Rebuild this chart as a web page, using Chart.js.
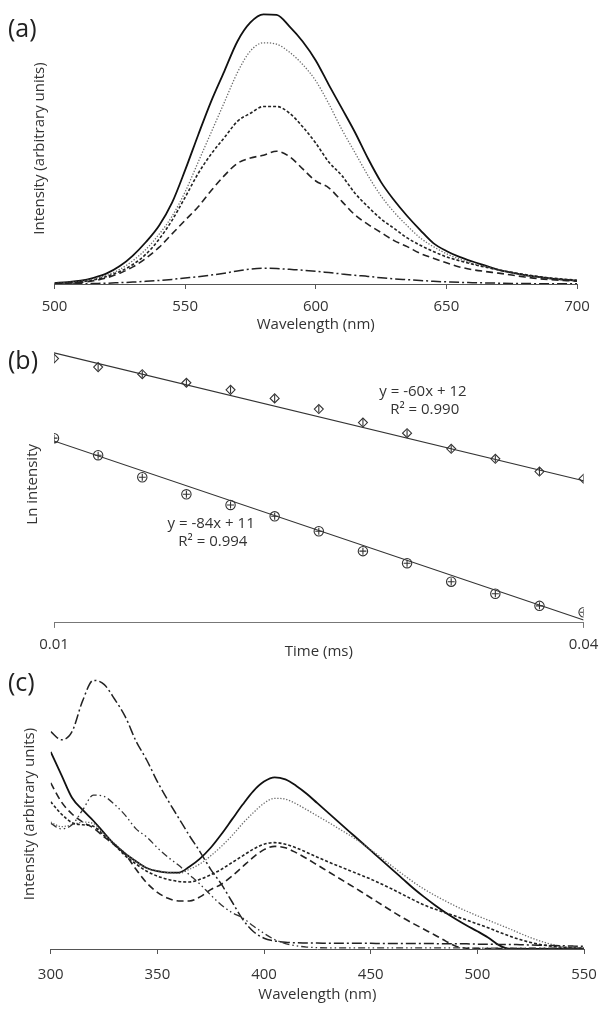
<!DOCTYPE html>
<html lang="en">
<head>
  <meta charset="UTF-8" />
  <title>Emission, decay and excitation spectra</title>
  <script src="https://cdn.jsdelivr.net/npm/chart.js@4.4.1/dist/chart.umd.min.js"></script>
  <style>
    body { margin: 0; background: #fff; }
    .panel { position: absolute; left: 0; }
  </style>
</head>
<body>
<div class="panel" style="top: 0px"><canvas id="a" width="615" height="340"></canvas></div>
<div class="panel" style="top: 340px"><canvas id="b" width="615" height="330"></canvas></div>
<div class="panel" style="top: 670px"><canvas id="c" width="615" height="346"></canvas></div>
<script>
  // (a) emission spectra
  const wavelengthA = [500, 505, 510, 515, 520, 525, 530, 535, 540, 545, 550, 555, 560, 565, 570, 575, 580, 585, 590, 595,
    600, 605, 610, 615, 620, 625, 630, 635, 640, 645, 650, 655, 660, 665, 670, 675, 680, 685, 690, 695, 700];
  const solidA = [0.4, 0.7, 1.2, 2.3, 3.9, 6.6, 10.5, 15.5, 21.5, 30, 42, 55, 67.5, 78.5, 89.5, 96.5, 99.5, 99.3, 95, 89.5,
    82.5, 73.5, 64.8, 56, 46.3, 37.6, 30.9, 25.1, 19.9, 15.1, 12.2, 10, 8.3, 6.8, 5.2, 4.2, 3.3, 2.6, 2, 1.6, 1.2];
  const dottedA = [0.3, 0.6, 1, 1.9, 3.2, 5.4, 8.6, 12.8, 18.3, 25, 34, 45, 56, 67, 78, 86, 89, 88.5, 85.5, 81,
    75, 66.5, 57, 48.5, 40, 32.5, 26.5, 21.5, 17, 13.8, 11.2, 9.2, 7.6, 6.4, 5.2, 4.2, 3.3, 2.5, 1.9, 1.5, 1.1];
  const shortDashA = [0.2, 0.4, 0.8, 1.5, 2.8, 4.6, 7.2, 11, 16.5, 23.5, 32, 40.8, 48, 54, 60, 63, 65.5, 65.5, 63, 58,
    52, 45, 40, 33.5, 28.5, 24, 20.5, 17, 14.3, 12, 10, 8.6, 7.3, 6.2, 5.2, 4.3, 3.5, 2.8, 2.2, 1.8, 1.4];
  const dashedA = [0.2, 0.3, 0.6, 1.2, 2.3, 4, 6.3, 9.5, 13.5, 18.5, 23.5, 28.5, 34.5, 40, 44.5, 46.5, 47.5, 49, 47, 42.5,
    38, 35.5, 30.5, 25.5, 22, 19, 16, 13.8, 11.3, 9.5, 7.8, 6.3, 5.3, 4.6, 4, 3.3, 2.6, 2, 1.6, 1.3, 1];
  const dashDotA = [0, 0, 0.1, 0.2, 0.3, 0.5, 0.7, 1, 1.3, 1.7, 2.2, 2.7, 3.3, 4, 4.8, 5.5, 5.8, 5.7, 5.4, 5.1,
    4.7, 4.2, 3.7, 3.2, 2.8, 2.3, 1.9, 1.6, 1.3, 1, 0.8, 0.6, 0.5, 0.4, 0.3, 0.2, 0.2, 0.1, 0.1, 0.1, 0.1];
  const ticksA = [500, 550, 600, 650, 700];

  // (b) ln intensity decay
  const timeB = [0.01, 0.0125, 0.015, 0.0175, 0.02, 0.0225, 0.025, 0.0275, 0.03, 0.0325, 0.035, 0.0375, 0.04];
  const diamondB = [11.32, 11.2, 11.1, 10.98, 10.88, 10.76, 10.61, 10.42, 10.27, 10.05, 9.91, 9.73, 9.63];
  const circleB = [10.2, 9.96, 9.65, 9.41, 9.26, 9.1, 8.89, 8.61, 8.44, 8.18, 8.01, 7.84, 7.75];
  const fitTimeB = [0.01, 0.04];
  const fitUpperB = [11.4, 9.6];
  const fitLowerB = [10.16, 7.64];
  const ticksB = [0.01, 0.04];
  const notesB = [
    { text: "y = -60x + 12", x: 0.0309, y: 10.86 },
    { text: "R² = 0.990", x: 0.031, y: 10.594 },
    { text: "y = -84x + 11", x: 0.0189, y: 8.99 },
    { text: "R² = 0.994", x: 0.019, y: 8.738 }
  ];

  // (c) excitation spectra
  const wavelengthC = [300, 305, 310, 315, 320, 325, 330, 335, 340, 345, 350, 355, 360, 365, 370, 375, 380, 385, 390, 395,
    400, 405, 410, 415, 420, 425, 430, 435, 440, 445, 450, 455, 460, 465, 470, 475, 480, 485, 490, 495,
    500, 505, 510, 515, 520, 525, 530, 535, 540, 545, 550];
  const solidC = [73, 64.5, 56, 51.5, 47.5, 43, 38.7, 35.3, 32.5, 30, 28.8, 28.3, 28.3, 30.5, 33.5, 37.5, 42.5, 48, 53.5, 58.5,
    62, 63.6, 62.8, 60.5, 57.5, 54, 50.5, 47, 43.5, 40, 36.5, 33, 29.5, 26, 22.5, 19.3, 16.3, 13.5, 11, 8.7,
    6.6, 4.3, 1.5, 0, 0, 0, 0, 0, 0, 0, 0];
  const dottedC = [47, 45.3, 46, 47, 46.5, 42.5, 39, 35.5, 32.5, 30, 29, 28.3, 28, 29.5, 31.5, 34.5, 38, 42, 46.5, 50.5,
    54, 55.8, 55.5, 53.8, 51.6, 49.3, 47, 44.6, 42.2, 39.6, 36.8, 33.8, 30.7, 27.7, 24.8, 22.2, 19.9, 17.8, 15.8, 14,
    12.3, 10.7, 9.1, 7.5, 5.8, 4.2, 2.8, 1.7, 0.9, 0.5, 0.4];
  const shortDashC = [54.5, 50, 46.8, 46, 45.5, 42, 38.5, 34.5, 31.5, 28.8, 27, 25.8, 25, 24.8, 25.8, 27.5, 29.5, 32, 34.5, 37,
    38.8, 39.4, 38.8, 37.5, 35.8, 34, 32.3, 30.7, 29.1, 27.5, 25.9, 24.1, 22.2, 20.2, 18.2, 16.3, 14.8, 13.4, 12.1, 10.7,
    9.3, 7.9, 6.3, 4.8, 3.5, 2.4, 1.6, 1, 0.6, 0.4, 0.3];
  const longDashC = [61.5, 54.5, 50, 47, 44.8, 41.5, 38.5, 35, 29.5, 24.5, 21, 18.8, 17.8, 17.8, 19.3, 22, 24, 27, 30.5, 34,
    36.8, 38, 37.5, 35.7, 33.5, 31.1, 28.7, 26.3, 23.9, 21.5, 19, 16.5, 14, 11.6, 9.4, 7.3, 5.2, 3, 1, 0.3,
    0.2, 0.2, 0.2, 0.2, 0.2, 0.2, 0.2, 0.2, 0.2, 0.2, 0.2];
  const dashDotC = [80.5, 77.5, 80.5, 92, 99.5, 98, 92.5, 86, 77, 70, 62, 55, 48.5, 42, 36, 29.5, 24, 17.5, 11, 6.5,
    4, 3, 2.5, 2.3, 2.2, 2.2, 2.1, 2.1, 2.1, 2.1, 2.1, 2, 2, 2, 2, 2, 2, 1.9, 1.9, 1.9,
    1.8, 1.8, 1.7, 1.7, 1.6, 1.5, 1.4, 1.3, 1.2, 1.1, 1];
  const dashDotDotC = [46.5, 44.5, 46, 51.5, 57, 56.5, 53.5, 49.5, 44.5, 41.5, 37.5, 34, 31, 27.5, 24, 20, 16.3, 13.5, 11.5, 8.5,
    5.8, 3.5, 2, 1.2, 0.7, 0.5, 0.4, 0.4, 0.4, 0.4, 0.4, 0.4, 0.4, 0.4, 0.4, 0.4, 0.4, 0.4, 0.4, 0.4,
    0.3, 0.3, 0.3, 0.3, 0.3, 0.3, 0.3, 0.3, 0.3, 0.3, 0.3];
  const ticksC = [300, 350, 400, 450, 500, 550];

  Chart.defaults.font.family = "'Open Sans', sans-serif";
  Chart.defaults.font.size = 15;
  Chart.defaults.color = "#333";

  const styles = {
    solid: { borderColor: "#111", borderWidth: 1.8, borderDash: [] },
    dotted: { borderColor: "#6a6a6a", borderWidth: 1.3, borderDash: [1.3, 1.7] },
    shortDash: { borderColor: "#222", borderWidth: 1.6, borderDash: [3, 2] },
    longDash: { borderColor: "#222", borderWidth: 1.6, borderDash: [7, 4] },
    dashDot: { borderColor: "#222", borderWidth: 1.5, borderDash: [10, 3, 2, 3] },
    dashDotDot: { borderColor: "#333", borderWidth: 1.3, borderDash: [7, 3, 1.5, 3, 1.5, 3] }
  };

  const pts = (xs, ys) => ys.map((y, i) => ({ x: xs[i], y }));

  function curve(xs, ys, style) {
    return {
      data: pts(xs, ys), ...styles[style], fill: false,
      pointRadius: 0, cubicInterpolationMode: "monotone"
    };
  }

  // panel letter and free text notes
  const panelText = {
    id: "panelText",
    afterDraw(chart, args, opts) {
      const { ctx, scales } = chart;
      ctx.save();
      ctx.fillStyle = "#222";
      ctx.textBaseline = "middle";
      ctx.textAlign = "left";
      ctx.font = "25px 'Open Sans', sans-serif";
      ctx.fillText(opts.label, 8, opts.labelY);
      ctx.font = "15px 'Open Sans', sans-serif";
      ctx.textAlign = "center";
      ctx.fillStyle = "#333";
      (opts.notes || []).forEach(n => {
        ctx.fillText(n.text, scales.x.getPixelForValue(n.x), scales.y.getPixelForValue(n.y));
      });
      ctx.restore();
    }
  };

  function options(o) {
    return {
      responsive: false,
      animation: false,
      devicePixelRatio: 1,
      layout: { padding: { left: 0, right: o.right, top: o.top, bottom: 0 } },
      plugins: {
        legend: { display: false },
        tooltip: { enabled: false },
        panelText: { label: o.label, labelY: o.labelY, notes: o.notes }
      },
      scales: {
        x: {
          type: "linear",
          min: o.xMin,
          max: o.xMax,
          afterFit: s => { s.height = o.xHeight; },
          afterBuildTicks: s => { s.ticks = o.xTicks.map(v => ({ value: v })); },
          ticks: { padding: o.tickPad, color: "#333", maxRotation: 0, autoSkip: false },
          grid: { display: true, drawOnChartArea: false, drawTicks: true, tickLength: 5, color: o.axisColor },
          border: { display: true, color: o.axisColor, width: 1 },
          title: { display: true, text: o.xTitle, color: "#333", padding: { top: 0, bottom: o.xTitlePad } }
        },
        y: {
          min: o.yMin,
          max: o.yMax,
          afterFit: s => { s.width = o.left; },
          ticks: { display: false },
          grid: { display: false },
          border: { display: false },
          title: { display: true, text: o.yTitle, color: "#333", padding: { top: o.yTitlePad, bottom: 0 } }
        }
      }
    };
  }

  new Chart(document.getElementById("a"), {
    type: "line",
    data: {
      datasets: [
        curve(wavelengthA, dashDotA, "dashDot"),
        curve(wavelengthA, dashedA, "longDash"),
        curve(wavelengthA, shortDashA, "shortDash"),
        curve(wavelengthA, dottedA, "dotted"),
        curve(wavelengthA, solidA, "solid")
      ]
    },
    options: options({
      label: "(a)", labelY: 30, axisColor: "#555",
      left: 54.5, right: 38, top: 13, xHeight: 56,
      xMin: 500, xMax: 700, xTicks: ticksA, tickPad: 9,
      xTitle: "Wavelength (nm)", xTitlePad: 6,
      yMin: 0, yMax: 100, yTitle: "Intensity (arbitrary units)", yTitlePad: 31
    }),
    plugins: [panelText]
  });

  const marker = { showLine: false, borderColor: "#333", backgroundColor: "rgba(255,255,255,0)", pointBorderWidth: 1.1 };

  new Chart(document.getElementById("b"), {
    type: "scatter",
    data: {
      datasets: [
        { data: pts(fitTimeB, fitUpperB), showLine: true, borderColor: "#333", borderWidth: 1.1, pointRadius: 0 },
        { data: pts(fitTimeB, fitLowerB), showLine: true, borderColor: "#333", borderWidth: 1.1, pointRadius: 0 },
        { data: pts(timeB, diamondB), ...marker, pointStyle: "rectRot", pointRadius: 4.5 },
        { data: pts(timeB, diamondB), ...marker, pointStyle: "line", rotation: 90, pointRadius: 3.5 },
        { data: pts(timeB, circleB), ...marker, pointStyle: "circle", pointRadius: 4.7 },
        { data: pts(timeB, circleB), ...marker, pointStyle: "cross", pointRadius: 3.5 }
      ]
    },
    options: options({
      label: "(b)", labelY: 22, notes: notesB, axisColor: "#777",
      left: 54, right: 31.4, top: 5.6, xHeight: 47.1,
      xMin: 0.01, xMax: 0.04, xTicks: ticksB, tickPad: 8,
      xTitle: "Time (ms)", xTitlePad: 9.3,
      yMin: 7.6, yMax: 11.5, yTitle: "Ln intensity", yTitlePad: 24
    }),
    plugins: [panelText]
  });

  new Chart(document.getElementById("c"), {
    type: "line",
    data: {
      datasets: [
        curve(wavelengthC, dashDotDotC, "dashDotDot"),
        curve(wavelengthC, dashDotC, "dashDot"),
        curve(wavelengthC, longDashC, "longDash"),
        curve(wavelengthC, shortDashC, "shortDash"),
        curve(wavelengthC, dottedC, "dotted"),
        curve(wavelengthC, solidC, "solid")
      ]
    },
    options: options({
      label: "(c)", labelY: 14, axisColor: "#555",
      left: 50.7, right: 31, top: 9, xHeight: 67,
      xMin: 300, xMax: 550, xTicks: ticksC, tickPad: 12,
      xTitle: "Wavelength (nm)", xTitlePad: 12,
      yMin: 0, yMax: 100, yTitle: "Intensity (arbitrary units)", yTitlePad: 21
    }),
    plugins: [panelText]
  });
</script>
</body>
</html>
